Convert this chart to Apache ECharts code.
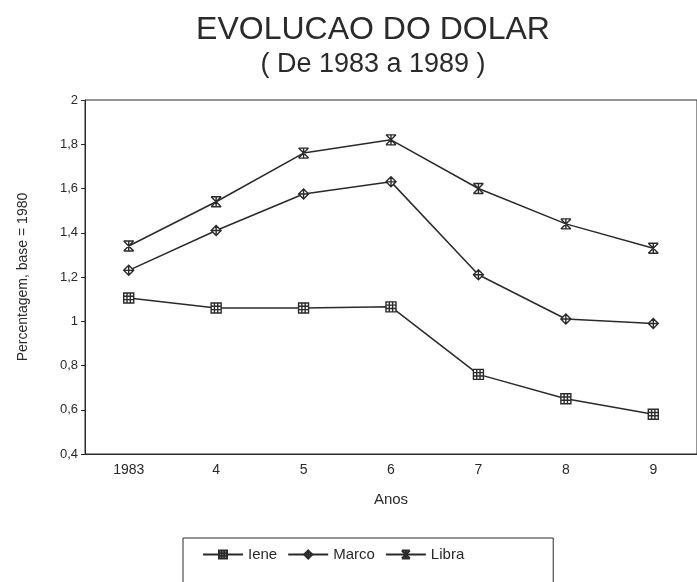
<!DOCTYPE html>
<html>
<head>
<meta charset="utf-8">
<script src="https://cdn.jsdelivr.net/npm/echarts@6/dist/echarts.min.js"></script>
<style>html,body{margin:0;padding:0;background:#fff}#c{width:697px;height:582px}</style>
</head>
<body>
<div id="c"></div>
<script>
var categories = ['1983', '4', '5', '6', '7', '8', '9'];
var iene  = [1.105, 1.06, 1.06, 1.065, 0.76, 0.65, 0.58];
var marco = [1.23, 1.41, 1.575, 1.63, 1.21, 1.01, 0.99];
var libra = [1.34, 1.54, 1.76, 1.82, 1.60, 1.44, 1.33];
var yTicks = [0.4, 0.6, 0.8, 1, 1.2, 1.4, 1.6, 1.8, 2];

var FONT = 'Liberation Sans, Arial, sans-serif';
var INK = '#2a2a2a';

var symIene  = 'path://M0,0L10,0L10,10L0,10Z M3.3,0L3.3,10 M6.6,0L6.6,10 M0,3.3L10,3.3 M0,6.6L10,6.6';
var symMarco = 'path://M5,0L10,5L5,10L0,5Z M5,0L5,10 M0,5L10,5';
var symLibra = 'path://M0,0L10,0 M0,10L10,10 M0,0L10,10 M10,0L0,10 M5,0L5,10';

function mkSeries(name, data, sym) {
  return {
    name: name, type: 'line', data: data,
    symbol: sym, symbolSize: 10,
    lineStyle: { color: INK, width: 1.5 },
    itemStyle: { color: '#fff', borderColor: INK, borderWidth: 1.4 },
    emphasis: { disabled: true },
    animation: false
  };
}

var chart = echarts.init(document.getElementById('c'));
chart.setOption({
  backgroundColor: '#fff',
  animation: false,
  title: [
    { text: 'EVOLUCAO DO DOLAR', left: 368, textAlign: 'center', top: 9,
      textStyle: { fontFamily: FONT, fontSize: 32, fontWeight: 'normal', color: INK } },
    { text: '( De 1983 a 1989 )', left: 368, textAlign: 'center', top: 46,
      textStyle: { fontFamily: FONT, fontSize: 27, fontWeight: 'normal', color: INK } }
  ],
  grid: { left: 85, right: -9, top: 100, bottom: 128, show: true,
          borderColor: INK, borderWidth: 1, backgroundColor: 'transparent' },
  xAxis: {
    type: 'category', data: categories, boundaryGap: true,
    name: 'Anos', nameLocation: 'middle', nameGap: 38,
    nameTextStyle: { fontFamily: FONT, fontSize: 15, color: INK },
    axisLine: { lineStyle: { color: INK, width: 1 } },
    axisTick: { alignWithLabel: true, length: 4, lineStyle: { color: INK } },
    axisLabel: { fontFamily: FONT, fontSize: 14, color: INK, margin: 9 },
    splitLine: { show: false }
  },
  yAxis: {
    type: 'value', min: 0.4, max: 2, interval: 0.2,
    name: 'Percentagem, base = 1980', nameLocation: 'middle', nameGap: 55,
    nameTextStyle: { fontFamily: FONT, fontSize: 14, color: INK },
    axisLine: { show: true, lineStyle: { color: INK, width: 1 } },
    axisTick: { show: true, length: 4, lineStyle: { color: INK } },
    axisLabel: { fontFamily: FONT, fontSize: 13, color: INK, margin: 7,
      formatter: function (v) {
        var r = Math.round(v * 10) / 10;
        for (var i = 0; i < yTicks.length; i++) {
          if (Math.abs(yTicks[i] - r) < 1e-6) return String(yTicks[i]).replace('.', ',');
        }
        return '';
      } },
    splitLine: { show: false }
  },
  legend: {
    left: 183, top: 538,
    padding: [9, 89, 40, 19],
    borderColor: INK, borderWidth: 1,
    itemWidth: 40, itemHeight: 10, itemGap: 10,
    textStyle: { fontFamily: FONT, fontSize: 15, color: INK },
    data: ['Iene', 'Marco', 'Libra']
  },
  series: [
    mkSeries('Iene', iene, symIene),
    mkSeries('Marco', marco, symMarco),
    mkSeries('Libra', libra, symLibra)
  ]
});
</script>
</body>
</html>
